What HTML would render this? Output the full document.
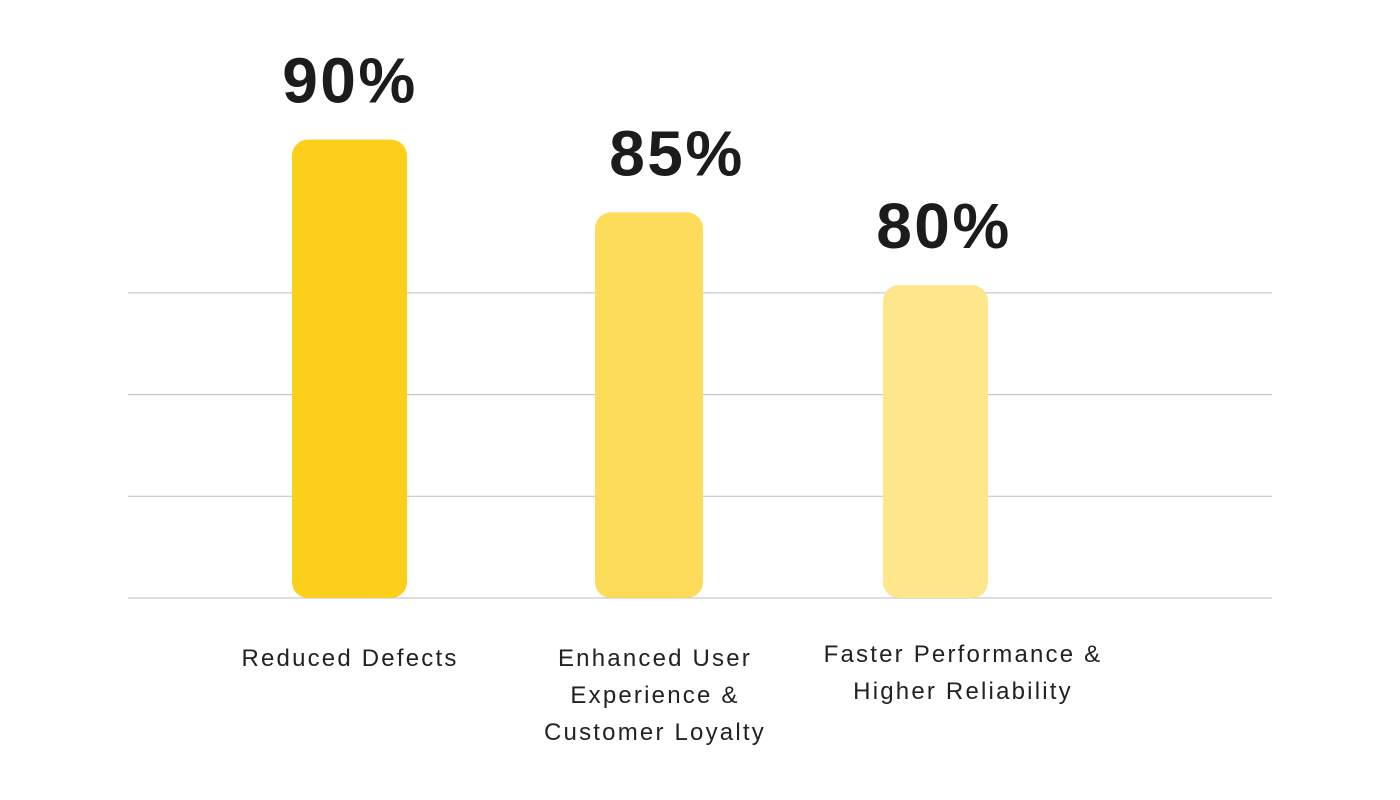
<!DOCTYPE html>
<html><head><meta charset="utf-8"><style>
html,body{margin:0;padding:0;background:#fff;width:1400px;height:800px;overflow:hidden}
svg{display:block}
text{font-family:"Liberation Sans",sans-serif}
</style></head><body>
<svg id="chart" width="1400" height="800" viewBox="0 0 1400 800"></svg>
<script>
const categories=[["Reduced Defects"],["Enhanced User","Experience &","Customer Loyalty"],["Faster Performance &","Higher Reliability"]];
const values=[90,85,80];
const valueLabels=["90%","85%","80%"];
const colors=["#FCD01A","#FDDC5A","#FEE68A"];
const gridTicks=[0,1,2,3];
const svg=document.getElementById('chart');
const NS='http://www.w3.org/2000/svg';
const baseY=598, yMin=58.5, pxPer=14.55;
const y=v=>baseY-(v-yMin)*pxPer;
const barX=[292,595,883], barW=[115,108,105];
const valX=[350,677,944];
const labelX=[350,655,963], labelY=[658,658,654];
function el(t,a){const e=document.createElementNS(NS,t);for(const k in a)e.setAttribute(k,a[k]);svg.appendChild(e);return e;}
gridTicks.forEach((g,i)=>{
  const l=el('line',{x1:128,x2:1272,y1:baseY-g*101.7,y2:baseY-g*101.7,stroke:'#bdbdbd','stroke-width':1});
  
  
});
values.forEach((v,i)=>{
  const top=y(v);
  const r=el('rect',{x:barX[i],y:top,width:barW[i],height:baseY-top,rx:16,fill:colors[i]});
  
  
  const t=el('text',{x:valX[i],y:top-37,'text-anchor':'middle','font-size':64,'font-weight':'bold','letter-spacing':2.5,fill:'#1c1c1c'});
  t.textContent=valueLabels[i];
  
  
  categories[i].forEach((line,j)=>{
    const c=el('text',{x:labelX[i],y:labelY[i]+j*37+8,'text-anchor':'middle','font-size':24,'letter-spacing':2.2,fill:'#222'});
    c.textContent=line;
    
    
  });
});
</script>
</body></html>
